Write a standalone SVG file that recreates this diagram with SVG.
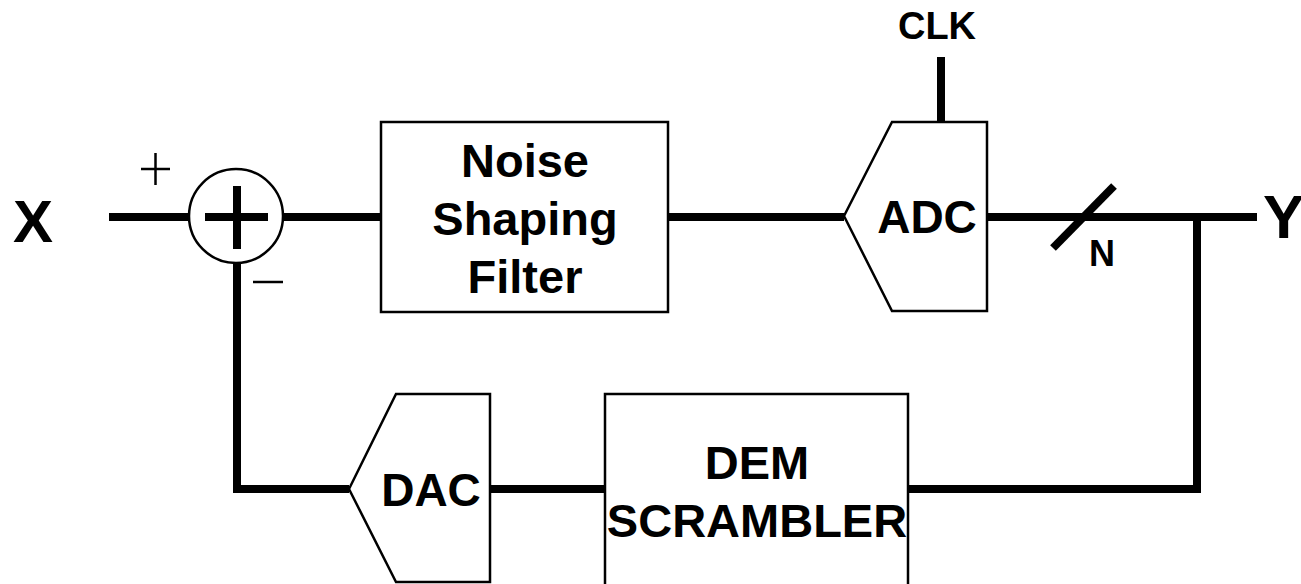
<svg xmlns="http://www.w3.org/2000/svg" width="1301" height="584" viewBox="0 0 1301 584">
<style>
.w{fill:none;stroke:#000;stroke-width:8;stroke-linecap:butt;stroke-linejoin:miter}
.b{fill:#fff;stroke:#000;stroke-width:2.5}
.t{font-family:"Liberation Sans",Arial,sans-serif;font-weight:bold;fill:#000;text-anchor:middle}
.thin{fill:none;stroke:#000;stroke-width:2.5}
</style>
<rect width="1301" height="584" fill="#fff"/>
<g id="connectors">
<line class="w" x1="109" y1="217" x2="189" y2="217"/>
<line class="w" x1="283" y1="217" x2="381" y2="217"/>
<line class="w" x1="668" y1="217" x2="844" y2="217"/>
<line class="w" x1="987" y1="217" x2="1257" y2="217"/>
<polyline class="w" points="1197,217 1197,489 908,489"/>
<line class="w" x1="605" y1="489" x2="490" y2="489"/>
<polyline class="w" points="349,489 237,489 237,263"/>
<line class="w" x1="941" y1="57" x2="941" y2="122"/>
<line class="w" x1="1053" y1="248" x2="1114" y2="186"/>
</g>
<g id="sum">
<circle class="b" cx="236" cy="216" r="47"/>
<line class="w" x1="205" y1="217" x2="268" y2="217"/>
<line class="w" x1="237" y1="186" x2="237" y2="249"/>
<line class="thin" x1="141" y1="169" x2="170" y2="169"/>
<line class="thin" x1="155.5" y1="153" x2="155.5" y2="185"/>
<line class="thin" x1="253" y1="282" x2="283" y2="282"/>
</g>
<g id="filter">
<rect class="b" x="381" y="122" width="287" height="190"/>
<text class="t" x="525" y="177" font-size="47">Noise</text>
<text class="t" x="525" y="235" font-size="47">Shaping</text>
<text class="t" x="525" y="293" font-size="47">Filter</text>
</g>
<g id="adc">
<polygon class="b" points="844,216 892,122 987,122 987,311 892,311"/>
<text class="t" x="927" y="233" font-size="46">ADC</text>
</g>
<g id="dac">
<polygon class="b" points="349,489 396,394 490,394 490,582 396,582"/>
<text class="t" x="431" y="506" font-size="46">DAC</text>
</g>
<g id="dem">
<rect class="b" x="605" y="394" width="303" height="200"/>
<text class="t" x="757" y="479" font-size="47">DEM</text>
<text class="t" x="757" y="537" font-size="47">SCRAMBLER</text>
</g>
<g id="labels">
<text class="t" x="33" y="242" font-size="60">X</text>
<text class="t" x="1263" y="238" font-size="62" text-anchor="start" style="text-anchor:start">Y</text>
<text class="t" x="937" y="39" font-size="38">CLK</text>
<text class="t" x="1102" y="266" font-size="36">N</text>
</g>
</svg>
